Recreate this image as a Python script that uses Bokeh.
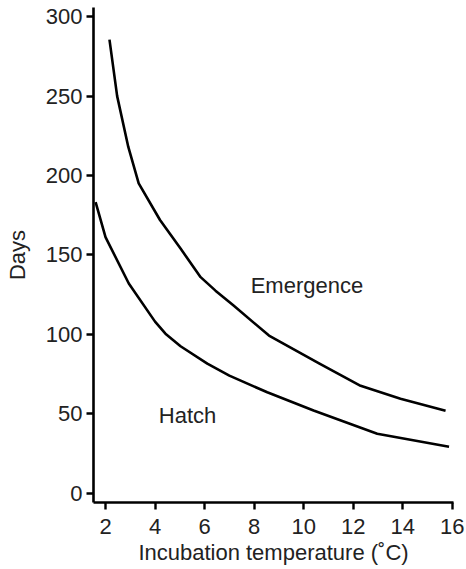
from bokeh.plotting import figure
from bokeh.models import Range1d, FixedTicker, Label
from bokeh.embed import file_html
from bokeh.resources import INLINE

# Data
emergence_temp = [2.16, 2.47, 2.92, 3.34, 4.2, 5.03, 5.84, 6.44, 7.17, 8.60, 10.64, 12.30, 13.91, 15.73]
emergence_days = [285.6, 250.0, 218.0, 195.0, 172.0, 154.0, 136.0, 127.5, 118.1, 99.2, 81.5, 67.6, 59.4, 51.8]

hatch_temp = [1.60, 2.00, 2.94, 4.0, 4.42, 5.03, 6.11, 7.0, 8.53, 10.40, 12.97, 15.87]
hatch_days = [183.2, 161.2, 132.0, 108.0, 100.4, 92.5, 81.5, 74.0, 63.5, 52.0, 37.4, 29.2]

x_ticks = [2, 4, 6, 8, 10, 12, 14, 16]
y_ticks = [0, 50, 100, 150, 200, 250, 300]

FONT = "Liberation Sans"
TXT = "#222222"

p = figure(width=466, height=569,
           x_range=Range1d(1.515, 16.05), y_range=Range1d(-5.9, 305.8),
           output_backend="svg", toolbar_location=None,
           min_border_left=93, min_border_right=13,
           min_border_top=7, min_border_bottom=67)
p.outline_line_color = None
p.grid.visible = False
p.background_fill_color = "white"
p.border_fill_color = "white"

for ax in (p.xaxis[0], p.yaxis[0]):
    ax.axis_line_width = 2.6
    ax.axis_line_color = "black"
    ax.major_tick_line_width = 2.4
    ax.major_tick_line_color = "black"
    ax.major_tick_out = 7
    ax.major_tick_in = 0
    ax.minor_tick_line_color = None
    ax.major_label_text_font = FONT
    ax.major_label_text_font_size = "22px"
    ax.major_label_text_color = TXT
    ax.axis_label_text_font = FONT
    ax.axis_label_text_font_size = "22px"
    ax.axis_label_text_font_style = "normal"
    ax.axis_label_text_color = TXT

p.xaxis.ticker = FixedTicker(ticks=x_ticks)
p.yaxis.ticker = FixedTicker(ticks=y_ticks)
p.xaxis.axis_label = "Incubation temperature (˚C)"
p.yaxis.axis_label = "Days"
p.xaxis.major_label_standoff = 9
p.yaxis.major_label_standoff = 4
p.xaxis.axis_label_standoff = 3
p.yaxis.axis_label_standoff = 13

p.line(emergence_temp, emergence_days, line_width=2.6, line_color="black", line_join="round")
p.line(hatch_temp, hatch_days, line_width=2.6, line_color="black", line_join="round")

p.add_layout(Label(x=7.86, y=130.7, text="Emergence", text_font=FONT,
                   text_font_size="22px", text_color=TXT,
                   text_align="left", text_baseline="alphabetic"))
p.add_layout(Label(x=4.15, y=48.7, text="Hatch", text_font=FONT,
                   text_font_size="22px", text_color=TXT,
                   text_align="left", text_baseline="alphabetic"))

open("out.html", "w").write(file_html(p, INLINE))
